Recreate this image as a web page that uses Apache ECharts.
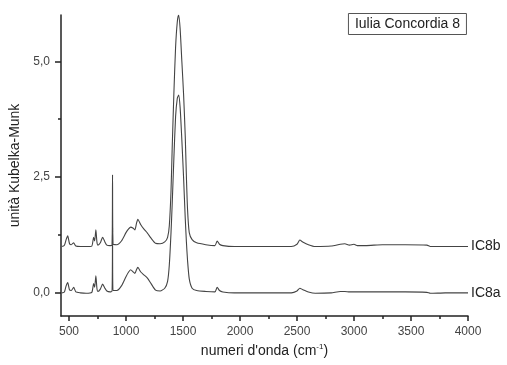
<!DOCTYPE html>
<html>
<head>
<meta charset="utf-8">
<script src="https://cdn.jsdelivr.net/npm/echarts@6/dist/echarts.min.js"></script>
<style>
  html, body { margin: 0; padding: 0; background: #fff; }
  #chart { width: 507px; height: 365px; }
</style>
</head>
<body>
<div id="chart"></div>
<script>
// numeri d'onda (cm-1)
const wavenumbers = [
  440, 460, 475, 489, 505, 520, 541, 560, 600, 650, 700, 716, 725, 736, 745, 754,
  775, 795, 815, 832, 860, 878, 882, 886, 920, 960, 1000, 1023, 1041, 1060, 1078,
  1092, 1104, 1130, 1156, 1188, 1220, 1259, 1300, 1340, 1365, 1380, 1395, 1405,
  1420, 1435, 1450, 1462, 1475, 1490, 1505, 1520, 1530, 1540, 1555, 1580, 1620,
  1700, 1780, 1800, 1820, 1850, 1950, 2100, 2300, 2450, 2500, 2525, 2550, 2600,
  2660, 2800, 2880, 2920, 2960, 3000, 3030, 3100, 3250, 3450, 3640, 3670, 3800, 4000
];

// IC8b (spostato di +1)
const ic8b = [
  1.00, 1.03, 1.15, 1.23, 1.06, 1.04, 1.08, 1.01, 1.00, 1.00, 1.01, 1.20, 1.12, 1.36, 1.10, 1.03,
  1.08, 1.20, 1.10, 1.03, 1.02, 1.03, 2.55, 1.05, 1.04, 1.12, 1.30, 1.38, 1.42, 1.40, 1.36,
  1.50, 1.59, 1.47, 1.38, 1.29, 1.18, 1.07, 1.06, 1.10, 1.20, 1.45, 2.20, 3.10,
  4.30, 5.30, 5.85, 6.00, 5.70, 5.00, 4.30, 3.37, 2.50, 1.80, 1.30, 1.15, 1.08,
  1.04, 1.02, 1.12, 1.05, 1.02, 1.00, 1.00, 1.00, 1.00, 1.05, 1.14, 1.10, 1.04,
  1.00, 1.01, 1.05, 1.06, 1.03, 1.05, 1.02, 1.02, 1.04, 1.04, 1.03, 1.00, 1.00, 1.00
];

// IC8a
const ic8a = [
  0.00, 0.02, 0.15, 0.22, 0.06, 0.05, 0.12, 0.02, 0.00, -0.01, 0.01, 0.20, 0.12, 0.37, 0.10, 0.03,
  0.08, 0.19, 0.10, 0.04, 0.02, 0.04, 1.40, 0.05, 0.05, 0.15, 0.35, 0.45, 0.50, 0.46, 0.42,
  0.50, 0.55, 0.45, 0.39, 0.32, 0.20, 0.06, 0.04, 0.10, 0.25, 0.60, 1.30, 1.90,
  2.90, 3.80, 4.20, 4.27, 4.00, 3.30, 2.50, 1.60, 1.10, 0.70, 0.30, 0.10, 0.05,
  0.03, 0.02, 0.12, 0.05, 0.02, 0.00, 0.00, 0.00, 0.00, 0.04, 0.10, 0.07, 0.02,
  -0.01, 0.00, 0.03, 0.03, 0.02, 0.02, 0.02, 0.02, 0.02, 0.02, 0.01, -0.01, 0.00, 0.00
];

const xMajor = [500, 1000, 1500, 2000, 2500, 3000, 3500, 4000];
const xMinor = [750, 1250, 1750, 2250, 2750, 3250, 3750];
const yMajor = [0, 2.5, 5];
const yMinor = [1.25, 3.75];

const font = "'Liberation Sans', Arial, sans-serif";
const toPairs = (vals) => wavenumbers.map((w, i) => [w, vals[i]]);

const chart = echarts.init(document.getElementById("chart"));

const baseX = {
  type: "value",
  min: 430,
  max: 4000,
  position: "bottom",
  splitLine: { show: false },
};
const baseY = {
  type: "value",
  min: -0.5,
  max: 6,
  position: "left",
  splitLine: { show: false },
};

const option = {
  animation: false,
  title: {
    text: "Iulia Concordia 8",
    right: 40,
    top: 13,
    padding: [4, 7, 4, 7],
    borderColor: "#555",
    borderWidth: 1,
    textStyle: { fontFamily: font, fontSize: 14, fontWeight: "normal", color: "#222" },
  },
  grid: { left: 61, right: 39, top: 15, bottom: 49 },
  xAxis: [
    Object.assign({}, baseX, {
      name: "{a|numeri d'onda (cm}{s|-1}{a|)}",
      nameLocation: "middle",
      nameGap: 26,
      nameTextStyle: {
        rich: {
          a: { fontFamily: font, fontSize: 14, color: "#222" },
          s: { fontFamily: font, fontSize: 8, color: "#222", verticalAlign: "top", padding: [0, 0, 8, 0] },
        },
      },
      axisLine: { onZero: false, lineStyle: { color: "#222", width: 1.5 } },
      axisTick: { customValues: xMajor, length: 5, lineStyle: { color: "#222", width: 1.5 } },
      axisLabel: {
        customValues: xMajor,
        margin: 10,
        fontFamily: font,
        fontSize: 12,
        color: "#444",
        formatter: (v) => String(v),
      },
    }),
    Object.assign({}, baseX, {
      axisLine: { show: false, onZero: false },
      axisTick: { customValues: xMinor, length: 3, lineStyle: { color: "#222", width: 1.5 } },
      axisLabel: { show: false },
    }),
  ],
  yAxis: [
    Object.assign({}, baseY, {
      name: "unità Kubelka-Munk",
      nameLocation: "middle",
      nameGap: 31,
      nameTextStyle: { fontFamily: font, fontSize: 14, color: "#222" },
      axisLine: { show: true, onZero: false, lineStyle: { color: "#222", width: 1.5 } },
      axisTick: { show: true, customValues: yMajor, length: 6, lineStyle: { color: "#222", width: 1.5 } },
      axisLabel: {
        customValues: yMajor,
        margin: 11,
        fontFamily: font,
        fontSize: 12,
        color: "#444",
        formatter: (v) => v.toFixed(1).replace(".", ","),
      },
    }),
    Object.assign({}, baseY, {
      axisLine: { show: false, onZero: false },
      axisTick: { show: true, customValues: yMinor, length: 3, lineStyle: { color: "#222", width: 1.5 } },
      axisLabel: { show: false },
    }),
  ],
  series: [
    {
      name: "IC8b",
      type: "line",
      data: toPairs(ic8b),
      symbol: "none",
      smooth: 0.2,
      lineStyle: { color: "#444", width: 1.1 },
      endLabel: {
        show: true,
        formatter: "{a}",
        distance: 3,
        fontFamily: font,
        fontSize: 14,
        color: "#222",
      },
    },
    {
      name: "IC8a",
      type: "line",
      data: toPairs(ic8a),
      symbol: "none",
      smooth: 0.2,
      lineStyle: { color: "#444", width: 1.1 },
      endLabel: {
        show: true,
        formatter: "{a}",
        distance: 3,
        fontFamily: font,
        fontSize: 14,
        color: "#222",
      },
    },
  ],
};

chart.setOption(option);
</script>
</body>
</html>
